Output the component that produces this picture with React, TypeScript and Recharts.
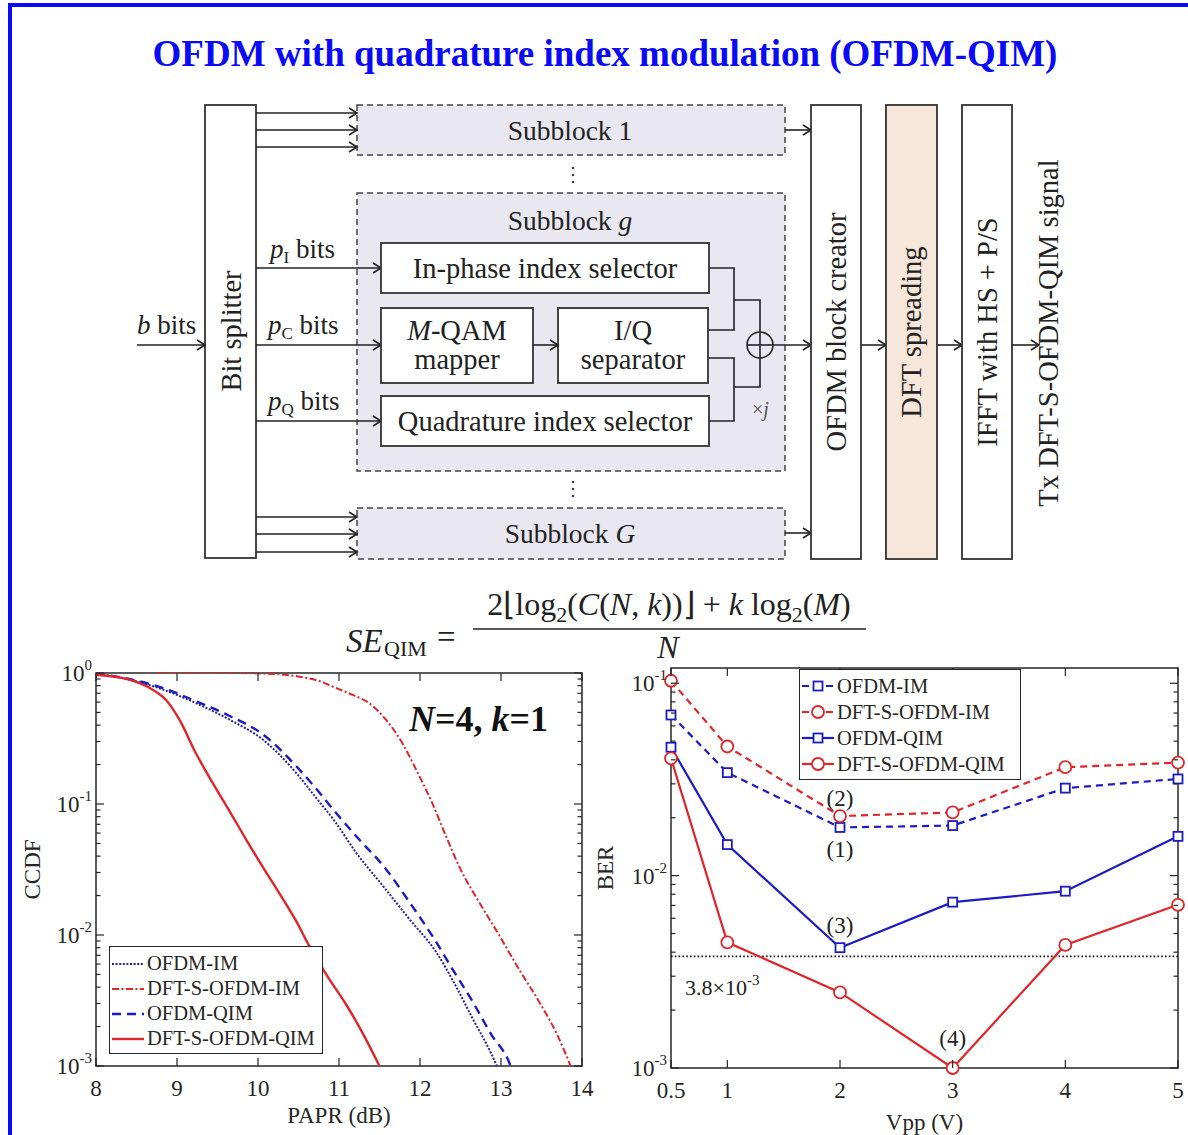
import React from 'react';
import {
  LineChart, Line, XAxis, YAxis, ReferenceLine, ReferenceArea, ReferenceDot, Legend,
} from 'recharts';

const FONT = '"Liberation Serif", "Times New Roman", serif';
const AX = '#262626';
const INK = '#222';
const BLUE = '#1b1bc4';
const NAVY = '#22229a';
const RED = '#e0252b';

// ---- CCDF vs PAPR (left panel) ----
const paprTicks = [8, 9, 10, 11, 12, 13, 14];
const ccdfTicks = [
  0.001, 0.002, 0.003, 0.004, 0.005, 0.006, 0.007, 0.008, 0.009,
  0.01, 0.02, 0.03, 0.04, 0.05, 0.06, 0.07, 0.08, 0.09,
  0.1, 0.2, 0.3, 0.4, 0.5, 0.6, 0.7, 0.8, 0.9, 1,
];

const ofdmImPapr = [8, 8.41, 8.82, 9.23, 9.65, 10.06, 10.47, 10.7, 10.96, 11.21, 11.54, 11.87, 12.2, 12.44, 12.65, 12.87, 12.95];
const ofdmImCcdf = [0.99, 0.89, 0.75, 0.59, 0.44, 0.31, 0.173, 0.115, 0.072, 0.0426, 0.0238, 0.0132, 0.0074, 0.0041, 0.0023, 0.00128, 0.001];

const dftsImPapr = [8.74, 9.6, 10.1, 10.5, 10.75, 10.96, 11.17, 11.37, 11.58, 11.78, 11.95, 12.15, 12.32, 12.5, 12.73, 12.98, 13.22, 13.47, 13.7, 13.86];
const dftsImCcdf = [1, 1, 0.99, 0.94, 0.87, 0.77, 0.68, 0.59, 0.44, 0.293, 0.184, 0.102, 0.057, 0.0318, 0.0178, 0.0099, 0.0055, 0.0031, 0.0017, 0.001];

const ofdmQimPapr = [8, 8.41, 8.82, 9.23, 9.65, 10.06, 10.47, 10.7, 10.96, 11.21, 11.58, 11.87, 12.15, 12.4, 12.65, 12.89, 13.08, 13.12];
const ofdmQimCcdf = [0.99, 0.9, 0.77, 0.61, 0.47, 0.34, 0.195, 0.135, 0.086, 0.057, 0.0318, 0.0178, 0.0099, 0.0055, 0.0031, 0.0017, 0.00114, 0.001];

const dftsQimPapr = [8, 8.41, 8.7, 8.86, 9.03, 9.23, 9.44, 9.65, 9.85, 10.06, 10.26, 10.47, 10.63, 10.88, 11.08, 11.31, 11.5];
const dftsQimCcdf = [0.97, 0.89, 0.746, 0.627, 0.44, 0.246, 0.145, 0.088, 0.054, 0.033, 0.021, 0.0128, 0.0083, 0.0046, 0.003, 0.0017, 0.001];

// ---- BER vs Vpp (right panel) ----
const vpp = [0.5, 1, 2, 3, 4, 5];
const berOfdmIm = [0.0684, 0.0343, 0.0178, 0.0182, 0.0285, 0.0318];
const berDftsIm = [0.103, 0.0469, 0.0204, 0.0213, 0.0366, 0.0387];
const berOfdmQim = [0.0465, 0.0145, 0.00422, 0.00728, 0.0083, 0.016];
const berDftsQim = [0.0407, 0.0045, 0.00247, 0.001, 0.00436, 0.00705];
const berTicks = [
  0.001, 0.002, 0.003, 0.004, 0.005, 0.006, 0.007, 0.008, 0.009,
  0.01, 0.02, 0.03, 0.04, 0.05, 0.06, 0.07, 0.08, 0.09, 0.1,
];
const fecLimit = 0.0038;

const zip = (xs: number[], ys: number[]) => xs.map((x, i) => ({ x, y: ys[i] }));

const isDecade = (v: number) => Math.abs(Math.log10(v) - Math.round(Math.log10(v))) < 1e-6;

function makeLogTick(left: number, right: number) {
  return (props: any) => {
    const { y, payload } = props;
    const v = payload.value;
    const major = isDecade(v);
    const len = major ? 8 : 4.5;
    const exp = Math.round(Math.log10(v));
    return (
      <g>
        <line x1={left} x2={left + len} y1={y} y2={y} stroke={AX} strokeWidth={1.2} />
        <line x1={right - len} x2={right} y1={y} y2={y} stroke={AX} strokeWidth={1.2} />
        {major && (
          <text x={left - 4} y={y + 8} textAnchor="end" fontFamily={FONT} fontSize={23} fill={AX}>
            10<tspan dy={-11} fontSize={15}>{exp === 0 ? '0' : String(exp)}</tspan>
          </text>
        )}
      </g>
    );
  };
}

function makeXTick(top: number, bottom: number) {
  return (props: any) => {
    const { x, payload } = props;
    return (
      <g>
        <line x1={x} x2={x} y1={bottom} y2={bottom - 8} stroke={AX} strokeWidth={1.2} />
        <line x1={x} x2={x} y1={top} y2={top + 8} stroke={AX} strokeWidth={1.2} />
        <text x={x} y={bottom + 30} textAnchor="middle" fontFamily={FONT} fontSize={23} fill={AX}>
          {payload.value}
        </text>
      </g>
    );
  };
}

type Entry = { name: string; color: string; dash?: string; width: number; marker?: 'square' | 'circle' };

const ccdfSeries: Entry[] = [
  { name: 'OFDM-IM', color: NAVY, dash: '2 1.6', width: 2 },
  { name: 'DFT-S-OFDM-IM', color: RED, dash: '7 2.5 2 2.5', width: 2 },
  { name: 'OFDM-QIM', color: BLUE, dash: '9 6', width: 2.4 },
  { name: 'DFT-S-OFDM-QIM', color: RED, width: 2.4 },
];

const berSeries: Entry[] = [
  { name: 'OFDM-IM', color: BLUE, dash: '7 5', width: 2.2, marker: 'square' },
  { name: 'DFT-S-OFDM-IM', color: RED, dash: '7 5', width: 2.2, marker: 'circle' },
  { name: 'OFDM-QIM', color: BLUE, width: 2.2, marker: 'square' },
  { name: 'DFT-S-OFDM-QIM', color: RED, width: 2.2, marker: 'circle' },
];

function Marker({ kind, cx, cy, color }: { kind?: string; cx: number; cy: number; color: string }) {
  if (kind === 'square') {
    return <rect x={cx - 4.5} y={cy - 4.5} width={9} height={9} fill="#fff" stroke={color} strokeWidth={1.8} />;
  }
  if (kind === 'circle') {
    return <circle cx={cx} cy={cy} r={6} fill="#fff" stroke={color} strokeWidth={1.8} />;
  }
  return null;
}

function LegendBox({ items, rowH, padTop, width }: { items: Entry[]; rowH: number; padTop: number; width: number }) {
  return (
    <div style={{ border: `1.5px solid ${AX}`, background: '#fff', width, boxSizing: 'border-box', paddingTop: padTop, paddingBottom: 2 }}>
      {items.map((it) => (
        <div key={it.name} style={{ display: 'flex', alignItems: 'center', height: rowH }}>
          <svg width={36} height={16} style={{ flex: 'none' }}>
            <line x1={2} x2={34} y1={8} y2={8} stroke={it.color} strokeWidth={it.width} strokeDasharray={it.dash} />
            <Marker kind={it.marker} cx={18} cy={8} color={it.color} />
          </svg>
          <span style={{ fontFamily: FONT, fontSize: 20.5, color: AX, marginLeft: 1, whiteSpace: 'nowrap', lineHeight: 1 }}>
            {it.name}
          </span>
        </div>
      ))}
    </div>
  );
}

function CcdfChart() {
  const L = 96;
  const R = 582;
  const T = 23;
  const B = 416;
  const sets = [
    zip(ofdmImPapr, ofdmImCcdf),
    zip(dftsImPapr, dftsImCcdf),
    zip(ofdmQimPapr, ofdmQimCcdf),
    zip(dftsQimPapr, dftsQimCcdf),
  ];
  return (
    <LineChart width={600} height={485} margin={{ top: 23, right: 18, bottom: 0, left: 0 }}>
      <XAxis
        type="number" dataKey="x" domain={[8, 14]} ticks={paprTicks} interval={0} height={69}
        axisLine={false} tickLine={false} tick={makeXTick(T, B)} allowDataOverflow
        label={{ value: 'PAPR (dB)', position: 'insideBottom', offset: 12, fill: AX, fontSize: 23, fontFamily: FONT }}
      />
      <YAxis
        type="number" scale="log" domain={[0.001, 1]} ticks={ccdfTicks} interval={0} width={96}
        axisLine={false} tickLine={false} tick={makeLogTick(L, R)} allowDataOverflow
        label={{ value: 'CCDF', angle: -90, position: 'insideLeft', offset: 32, fill: AX, fontSize: 23, fontFamily: FONT, style: { textAnchor: 'middle' } }}
      />
      <ReferenceArea x1={8} x2={14} y1={0.001} y2={1} fill="none" fillOpacity={0} stroke={AX} strokeWidth={1.5} />
      {ccdfSeries.map((s, i) => (
        <Line
          key={s.name} name={s.name} data={sets[i]} dataKey="y" type="monotone"
          stroke={s.color} strokeWidth={s.width} strokeDasharray={s.dash}
          dot={false} activeDot={false} isAnimationActive={false}
        />
      ))}
      <Legend
        layout="horizontal" verticalAlign="middle" align="center"
        wrapperStyle={{ left: 109, top: 296, width: 214, height: 'auto' }}
        content={() => <LegendBox items={ccdfSeries} rowH={25} padTop={4} width={214} />}
      />
    </LineChart>
  );
}

function BerChart() {
  const L = 81;
  const R = 588;
  const T = 18;
  const B = 418;
  const sets = [
    zip(vpp, berOfdmIm),
    zip(vpp, berDftsIm),
    zip(vpp, berOfdmQim),
    zip(vpp, berDftsQim),
  ];
  const annot = { fill: INK, fontSize: 23, fontFamily: FONT };
  return (
    <LineChart width={598} height={485} margin={{ top: 18, right: 10, bottom: 0, left: 0 }}>
      <XAxis
        type="number" dataKey="x" domain={[0.5, 5]} ticks={vpp} interval={0} height={67}
        axisLine={false} tickLine={false} tick={makeXTick(T, B)}
        label={{ value: 'Vpp (V)', position: 'insideBottom', offset: 5, fill: AX, fontSize: 23, fontFamily: FONT }}
      />
      <YAxis
        type="number" scale="log" domain={[0.001, 0.12]} ticks={berTicks} interval={0} width={81}
        axisLine={false} tickLine={false} tick={makeLogTick(L, R)}
        label={{ value: 'BER', angle: -90, position: 'insideLeft', offset: 15, fill: AX, fontSize: 23, fontFamily: FONT, style: { textAnchor: 'middle' } }}
      />
      <ReferenceArea x1={0.5} x2={5} y1={0.001} y2={0.12} fill="none" fillOpacity={0} stroke={AX} strokeWidth={1.5} />
      <ReferenceLine
        y={fecLimit} stroke="#111" strokeWidth={1.8} strokeDasharray="1.6 2.2"
        label={{
          content: (p: any) => (
            <text x={p.viewBox.x + 14} y={p.viewBox.y + 39} fontFamily={FONT} fontSize={22} fill={INK}>
              3.8×10<tspan dy={-10} fontSize={15}>-3</tspan>
            </text>
          ),
        }}
      />
      {berSeries.map((s, i) => (
        <Line
          key={s.name} name={s.name} data={sets[i]} dataKey="y" type="linear"
          stroke={s.color} strokeWidth={s.width} strokeDasharray={s.dash}
          dot={(p: any) => <Marker key={`${s.name}-${p.index}`} kind={s.marker} cx={p.cx} cy={p.cy} color={s.color} />}
          activeDot={false} isAnimationActive={false}
        />
      ))}
      <ReferenceDot x={vpp[2]} y={berOfdmIm[2]} r={0} fill="none" stroke="none" label={{ value: '(1)', position: 'bottom', offset: 13, ...annot }} />
      <ReferenceDot x={vpp[2]} y={berDftsIm[2]} r={0} fill="none" stroke="none" label={{ value: '(2)', position: 'top', offset: 10, ...annot }} />
      <ReferenceDot x={vpp[2]} y={berOfdmQim[2]} r={0} fill="none" stroke="none" label={{ value: '(3)', position: 'top', offset: 15, ...annot }} />
      <ReferenceDot x={vpp[3]} y={berDftsQim[3]} r={0} fill="none" stroke="none" label={{ value: '(4)', position: 'top', offset: 22, ...annot }} />
      <Legend
        layout="horizontal" verticalAlign="middle" align="center"
        wrapperStyle={{ left: 209, top: 19, width: 222, height: 'auto' }}
        content={() => <LegendBox items={berSeries} rowH={26} padTop={3} width={222} />}
      />
    </LineChart>
  );
}

function Arrow({ x1, x2, y }: { x1: number; x2: number; y: number }) {
  return (
    <g stroke={INK} strokeWidth={1.6} fill="none">
      <line x1={x1} x2={x2} y1={y} y2={y} />
      <polyline points={`${x2 - 8},${y - 5} ${x2},${y} ${x2 - 8},${y + 5}`} />
    </g>
  );
}

function Diagram() {
  const t = { fontFamily: FONT, fontSize: 28.5, fill: INK };
  const box = { fill: '#fff', stroke: '#333', strokeWidth: 1.8 };
  const sub = { fill: '#e9e7ef', stroke: '#444', strokeWidth: 1.5, strokeDasharray: '6 4' };
  const dots = (cx: number, cy: number) => (
    <g fill="#444">
      <circle cx={cx} cy={cy - 7} r={1.3} />
      <circle cx={cx} cy={cy} r={1.3} />
      <circle cx={cx} cy={cy + 7} r={1.3} />
    </g>
  );
  const rot = (cx: number, cy: number, content: React.ReactNode) => (
    <text transform={`rotate(-90 ${cx} ${cy})`} x={cx} y={cy} textAnchor="middle" dominantBaseline="central" {...t}>
      {content}
    </text>
  );
  return (
    <g>
      {/* subblock frames */}
      <rect x={357} y={105} width={428} height={50} {...sub} />
      <rect x={357} y={193} width={428} height={278} {...sub} />
      <rect x={357} y={508} width={428} height={51} {...sub} />
      <text x={570} y={130} textAnchor="middle" dominantBaseline="central" {...t} fontSize={27.5}>Subblock 1</text>
      <text x={570} y={220} textAnchor="middle" dominantBaseline="central" {...t} fontSize={27.5}>Subblock <tspan fontStyle="italic">g</tspan></text>
      <text x={570} y={533} textAnchor="middle" dominantBaseline="central" {...t} fontSize={27.5}>Subblock <tspan fontStyle="italic">G</tspan></text>
      {dots(573, 175)}
      {dots(573, 489)}

      {/* bit splitter */}
      <rect x={205} y={105} width={51} height={453} {...box} />
      {rot(231, 331, 'Bit splitter')}
      <Arrow x1={137} x2={205} y={345} />
      <text x={137} y={334} {...t} fontSize={27}><tspan fontStyle="italic">b</tspan> bits</text>

      {[113, 130, 147, 517, 534, 552].map((y) => <Arrow key={y} x1={256} x2={357} y={y} />)}

      <Arrow x1={256} x2={381} y={268} />
      <Arrow x1={256} x2={381} y={345} />
      <Arrow x1={256} x2={381} y={421} />
      <text x={270} y={258} {...t} fontSize={27}><tspan fontStyle="italic">p</tspan><tspan fontSize={17} dy={5}>I</tspan><tspan dy={-5}> bits</tspan></text>
      <text x={268} y={334} {...t} fontSize={27}><tspan fontStyle="italic">p</tspan><tspan fontSize={17} dy={5}>C</tspan><tspan dy={-5}> bits</tspan></text>
      <text x={268} y={410} {...t} fontSize={27}><tspan fontStyle="italic">p</tspan><tspan fontSize={17} dy={5}>Q</tspan><tspan dy={-5}> bits</tspan></text>

      {/* inner blocks */}
      <rect x={381} y={243} width={328} height={50} {...box} />
      <text x={545} y={268} textAnchor="middle" dominantBaseline="central" {...t}>In-phase index selector</text>
      <rect x={381} y={308} width={152} height={75} {...box} />
      <text x={457} y={330} textAnchor="middle" dominantBaseline="central" {...t}><tspan fontStyle="italic">M</tspan>-QAM</text>
      <text x={457} y={359} textAnchor="middle" dominantBaseline="central" {...t}>mapper</text>
      <rect x={558} y={308} width={150} height={75} {...box} />
      <text x={633} y={330} textAnchor="middle" dominantBaseline="central" {...t}>I/Q</text>
      <text x={633} y={359} textAnchor="middle" dominantBaseline="central" {...t}>separator</text>
      <rect x={381} y={396} width={328} height={50} {...box} />
      <text x={545} y={421} textAnchor="middle" dominantBaseline="central" {...t}>Quadrature index selector</text>
      <Arrow x1={533} x2={558} y={345} />

      {/* combiner */}
      <g stroke={INK} strokeWidth={1.6} fill="none">
        <polyline points="709,268 734,268 734,330 708,330" />
        <polyline points="734,300 760,300 760,332" />
        <polyline points="708,358 734,358 734,421 709,421" />
        <polyline points="734,387 760,387 760,358" />
        <circle cx={760} cy={345} r={13} />
        <line x1={747} x2={773} y1={345} y2={345} />
        <line x1={760} x2={760} y1={332} y2={358} />
      </g>
      <text x={752} y={416} fontFamily={FONT} fontSize={20} fill="#555">×<tspan fontStyle="italic">j</tspan></text>
      <Arrow x1={773} x2={811} y={345} />
      <Arrow x1={785} x2={811} y={130} />
      <Arrow x1={785} x2={811} y={533} />

      {/* right chain */}
      <rect x={811} y={105} width={50} height={454} {...box} />
      {rot(836, 332, 'OFDM block creator')}
      <Arrow x1={861} x2={886} y={345} />
      <rect x={886} y={105} width={51} height={454} fill="#f6e7da" stroke="#333" strokeWidth={1.8} />
      {rot(911, 332, 'DFT spreading')}
      <Arrow x1={937} x2={962} y={345} />
      <rect x={962} y={105} width={50} height={454} {...box} />
      {rot(987, 332, 'IFFT with HS + P/S')}
      <Arrow x1={1012} x2={1039} y={345} />
      {rot(1048, 333, 'Tx DFT-S-OFDM-QIM signal')}
    </g>
  );
}

export default function App() {
  return (
    <div style={{ position: 'fixed', left: 0, top: 0, width: 1188, height: 1135, overflow: 'hidden', background: '#fff', fontFamily: FONT }}>
      <svg width={1188} height={1135} style={{ position: 'absolute', left: 0, top: 0 }}>
        <line x1={8} x2={1188} y1={5} y2={5} stroke="#0a0af5" strokeWidth={4} />
        <line x1={10} x2={10} y1={3} y2={1135} stroke="#0a0af5" strokeWidth={4} />
        <text x={605} y={66} textAnchor="middle" fontFamily={FONT} fontWeight="bold" fontSize={37} fill="#0a0af5">
          OFDM with quadrature index modulation (OFDM-QIM)
        </text>
        <Diagram />
        {/* spectral efficiency formula */}
        <text x={346} y={652} fontFamily={FONT} fontSize={33} fontStyle="italic" fill={INK}>SE</text>
        <text x={384} y={656} fontFamily={FONT} fontSize={22} fill={INK}>QIM</text>
        <text x={437} y={648} fontFamily={FONT} fontSize={33} fill={INK}>=</text>
        <text x={669} y={615} textAnchor="middle" fontFamily={FONT} fontSize={32} fill={INK}>
          2⌊log<tspan fontSize={22} dy={7}>2</tspan><tspan dy={-7}>(</tspan><tspan fontStyle="italic">C</tspan>(<tspan fontStyle="italic">N</tspan>, <tspan fontStyle="italic">k</tspan>))⌋ + <tspan fontStyle="italic">k</tspan> log<tspan fontSize={22} dy={7}>2</tspan><tspan dy={-7}>(</tspan><tspan fontStyle="italic">M</tspan>)
        </text>
        <line x1={473} x2={866} y1={629} y2={629} stroke={INK} strokeWidth={1.6} />
        <text x={668} y={658} textAnchor="middle" fontFamily={FONT} fontSize={32} fontStyle="italic" fill={INK}>N</text>
        {/* panel annotation */}
        <text x={409} y={731} fontFamily={FONT} fontSize={36} fontWeight="bold" fill="#111">
          <tspan fontStyle="italic">N</tspan>=4, <tspan fontStyle="italic">k</tspan>=1
        </text>
      </svg>
      <div style={{ position: 'absolute', left: 0, top: 650 }}>
        <CcdfChart />
      </div>
      <div style={{ position: 'absolute', left: 590, top: 650 }}>
        <BerChart />
      </div>
    </div>
  );
}
